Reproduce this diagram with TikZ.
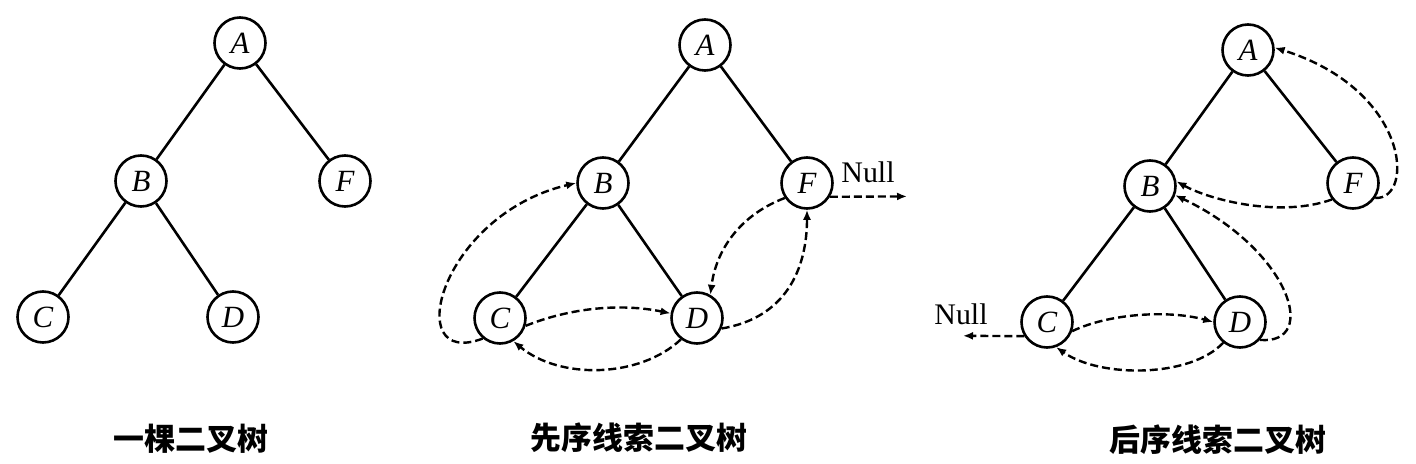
\documentclass[tikz,border=0pt]{standalone}
\usepackage{fontspec}
\setmainfont{Liberation Serif}
\newfontfamily\cjk{Noto Sans CJK SC}
\usetikzlibrary{arrows.meta}
\tikzset{
  tn/.style={circle,draw,line width=2.6bp,minimum size=51bp,inner sep=0pt,
    font=\fontsize{31}{31}\selectfont\itshape},
  tedge/.style={line width=2.6bp},
  thr/.style={line width=2.4bp,dash pattern=on 8bp off 4bp,
    -{Latex[length=10bp,width=8bp]}},
  nulltxt/.style={font=\fontsize{30}{30}\selectfont},
  captxt/.style={font=\cjk\bfseries\fontsize{31}{31}\selectfont}
}
\begin{document}
\begin{tikzpicture}[x=1bp,y=-1bp]
\useasboundingbox[fill=white] (0,0) rectangle (1416,464);
% ---------- tree 1 ----------
\node[tn] (A1) at (240,43) {A};
\node[tn] (B1) at (141,181) {B};
\node[tn] (F1) at (345,181) {F};
\node[tn] (C1) at (43,317) {C};
\node[tn] (D1) at (233,317) {D};
\draw[tedge] (A1) -- (B1);
\draw[tedge] (A1) -- (F1);
\draw[tedge] (B1) -- (C1);
\draw[tedge] (B1) -- (D1);
\node[captxt] (cap1) at (191,439) {一棵二叉树};
% ---------- tree 2 ----------
\node[tn] (A2) at (705,45) {A};
\node[tn] (B2) at (603,183) {B};
\node[tn] (F2) at (807,183) {F};
\node[tn] (C2) at (500,318) {C};
\node[tn] (D2) at (697,318) {D};
\draw[tedge] (A2) -- (B2);
\draw[tedge] (A2) -- (F2);
\draw[tedge] (B2) -- (C2);
\draw[tedge] (B2) -- (D2);
\draw[thr] (C2.230) .. controls (400,370) and (440,215) .. (B2.180);
\draw[thr] (C2.-17) .. controls (570,308) and (620,303) .. (D2.170);
\draw[thr] (D2.233) .. controls (640,378) and (560,380) .. (C2.300);
\draw[thr] (F2.214) .. controls (740,215) and (716,250) .. (D2.60);
\draw[thr] (D2.-23) .. controls (785,318) and (807,270) .. (F2.270);
\coordinate (null2) at (907,196.4);
\draw[thr] (F2.-31) -- (null2);
\node[nulltxt] (nt2) at (868,172) {Null};
\node[captxt] (cap2) at (639,438) {先序线索二叉树};
% ---------- tree 3 ----------
\node[tn] (A3) at (1248,50) {A};
\node[tn] (B3) at (1150,186) {B};
\node[tn] (F3) at (1353,183) {F};
\node[tn] (C3) at (1047,322) {C};
\node[tn] (D3) at (1240,322) {D};
\draw[tedge] (A3) -- (B3);
\draw[tedge] (A3) -- (F3);
\draw[tedge] (B3) -- (C3);
\draw[tedge] (B3) -- (D3);
\coordinate (null3) at (963,335.8);
\draw[thr] (C3.212) -- (null3);
\node[nulltxt] (nt3) at (961,314) {Null};
\draw[thr] (C3.-20) .. controls (1110,313) and (1170,310) .. (D3.180);
\draw[thr] (D3.231) .. controls (1190,378) and (1100,378) .. (C3.290);
\draw[thr] (D3.-42) .. controls (1320,345) and (1290,250) .. (B3.-20);
\draw[thr] (F3.218) .. controls (1280,218) and (1210,200) .. (B3.10);
\draw[thr] (F3.-34) .. controls (1415,200) and (1410,90) .. (A3.5);
\node[captxt] (cap3) at (1218,440) {后序线索二叉树};
\end{tikzpicture}
\end{document}
